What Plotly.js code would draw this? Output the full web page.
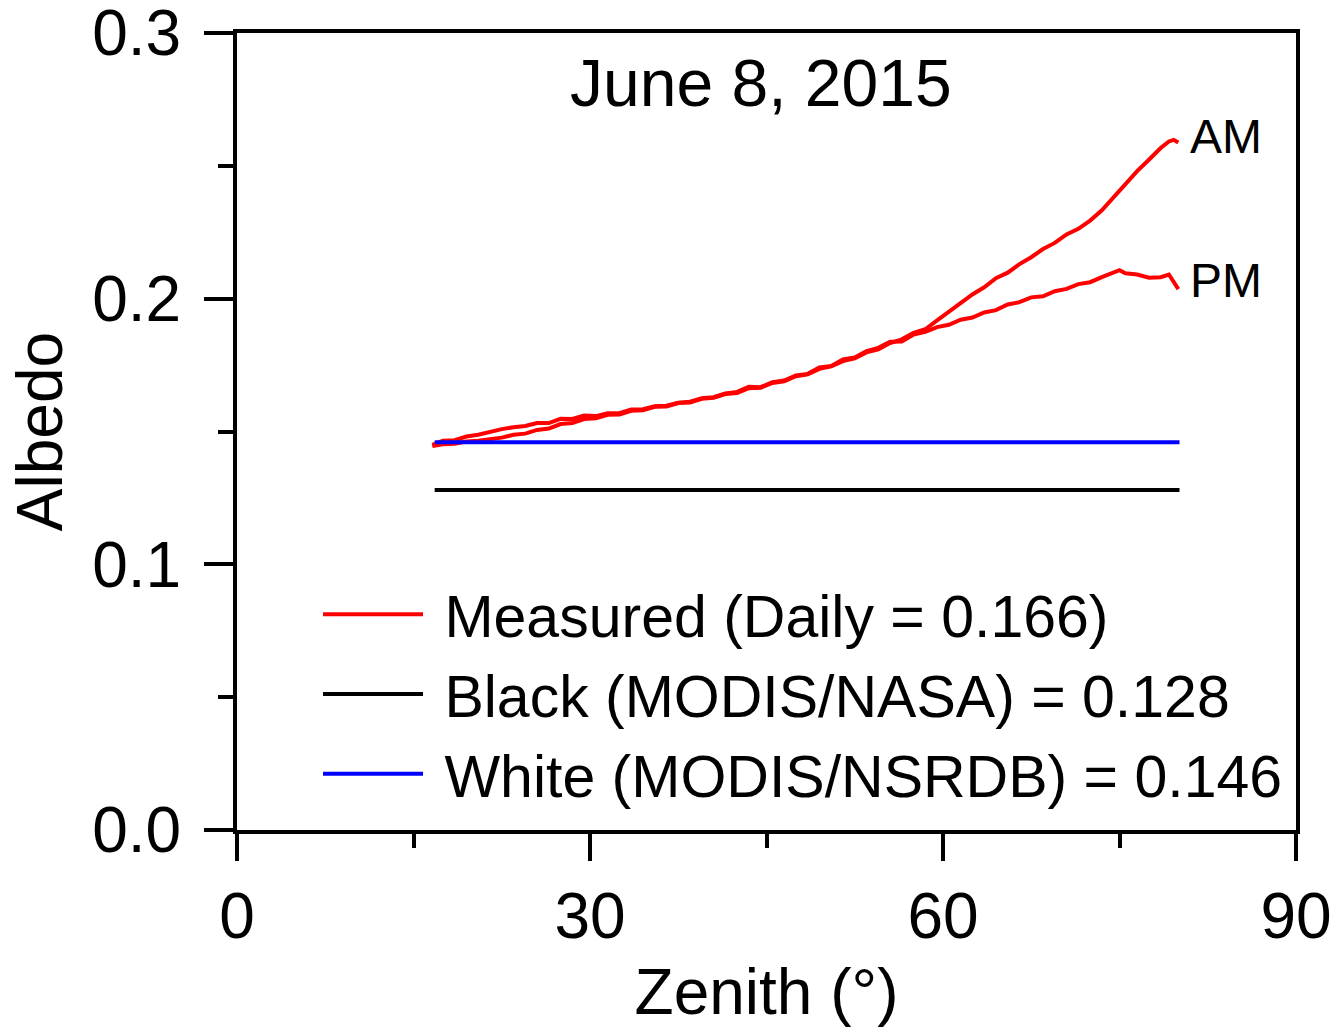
<!DOCTYPE html>
<html>
<head>
<meta charset="utf-8">
<script src="https://cdn.plot.ly/plotly-3.0.1.min.js"></script>
<style>html,body{margin:0;padding:0;background:#fff;}#chart{width:1336px;height:1028px;}</style>
</head>
<body>
<div id="chart"></div>
<script>
// Measured albedo, morning (AM) branch
const amZenith = [16.6,17.5,18.5,19.5,20.5,21.5,22.5,23.5,24.5,25.5,26.5,27.5,28.5,29.5,30.5,31.5,32.5,33.5,34.5,35.5,36.5,37.5,38.5,39.5,40.5,41.5,42.5,43.5,44.5,45.5,46.5,47.5,48.5,49.5,50.5,51.5,52.5,53.5,54.5,55.5,56.5,57.5,58.5,59.5,60.5,61.5,62.5,63.5,64.5,65.5,66.5,67.5,68.5,69.5,70.5,71.5,72.5,73.5,74.5,75.5,76.5,77.5,78.5,79.2,79.6,80.0];
const amAlbedo = [0.1445,0.1452,0.1454,0.1462,0.1465,0.1472,0.1477,0.1488,0.1492,0.1506,0.1511,0.1528,0.1532,0.1547,0.1550,0.1563,0.1564,0.1578,0.1580,0.1593,0.1594,0.1607,0.1609,0.1623,0.1627,0.1641,0.1645,0.1663,0.1665,0.1683,0.1689,0.1708,0.1715,0.1736,0.1745,0.1765,0.1775,0.1798,0.1809,0.1833,0.1847,0.1871,0.1885,0.1918,0.1950,0.1983,0.2016,0.2043,0.2077,0.2098,0.2130,0.2156,0.2187,0.2210,0.2242,0.2263,0.2294,0.2333,0.2382,0.2428,0.2480,0.2523,0.2567,0.2592,0.2598,0.2588];
// Measured albedo, afternoon (PM) branch
const pmZenith = [16.6,17.5,18.5,19.5,20.5,21.5,22.5,23.5,24.5,25.5,26.5,27.5,28.5,29.5,30.5,31.5,32.5,33.5,34.5,35.5,36.5,37.5,38.5,39.5,40.5,41.5,42.5,43.5,44.5,45.5,46.5,47.5,48.5,49.5,50.5,51.5,52.5,53.5,54.5,55.5,56.5,57.5,58.5,59.5,60.5,61.5,62.5,63.5,64.5,65.5,66.5,67.5,68.5,69.5,70.5,71.5,72.5,73.5,74.5,75.0,75.5,76.5,77.5,78.5,79.2,79.6,80.0];
const pmAlbedo = [0.1450,0.1465,0.1467,0.1481,0.1488,0.1499,0.1509,0.1516,0.1521,0.1532,0.1532,0.1548,0.1547,0.1560,0.1558,0.1569,0.1569,0.1583,0.1584,0.1595,0.1597,0.1608,0.1612,0.1625,0.1629,0.1643,0.1649,0.1668,0.1667,0.1686,0.1692,0.1711,0.1717,0.1741,0.1747,0.1771,0.1779,0.1803,0.1815,0.1838,0.1839,0.1865,0.1875,0.1893,0.1902,0.1921,0.1929,0.1948,0.1957,0.1978,0.1987,0.2005,0.2009,0.2028,0.2037,0.2055,0.2062,0.2081,0.2097,0.2107,0.2096,0.2091,0.2079,0.2081,0.2091,0.2060,0.2036];
// MODIS reference values (constant over zenith range)
const refZenith = [16.8, 80.1];
const blackSkyAlbedo = 0.128;
const whiteSkyAlbedo = 0.146;
const legendNames = ["Measured (Daily = 0.166)", "Black (MODIS/NASA) = 0.128", "White (MODIS/NSRDB) = 0.146"];
const xTickVals = [0, 30, 60, 90];
const yTickVals = [0, 0.1, 0.2, 0.3];
const yTickText = ['0.0', '0.1', '0.2', '0.3'];

const FONT = '"Liberation Sans", Arial, sans-serif';
const pad = s => '\u00a0' + s;

const traces = [
  {x: amZenith, y: amAlbedo, mode: 'lines', line: {color: '#ff0000', width: 4}, name: pad(legendNames[0])},
  {x: pmZenith, y: pmAlbedo, mode: 'lines', line: {color: '#ff0000', width: 4}, name: pad(legendNames[0]), showlegend: false},
  {x: refZenith, y: refZenith.map(() => blackSkyAlbedo), mode: 'lines', line: {color: '#000000', width: 4}, name: pad(legendNames[1])},
  {x: refZenith, y: refZenith.map(() => whiteSkyAlbedo), mode: 'lines', line: {color: '#0000ff', width: 4}, name: pad(legendNames[2])}
];

const axisCommon = {
  showline: true, linecolor: '#000', linewidth: 4, mirror: true,
  ticks: 'outside', tickcolor: '#000', tickwidth: 4,
  showgrid: false, zeroline: false, ticklabeloverflow: 'allow',
  tickfont: {family: FONT, size: 64, color: '#000'}
};

const layout = {
  width: 1336, height: 1028,
  margin: {l: 237, r: 40, t: 33, b: 198},
  paper_bgcolor: '#fff', plot_bgcolor: '#fff',
  font: {family: FONT, color: '#000'},
  showlegend: true,
  legend: {x: 0.0765, y: 0.327, xanchor: 'left', yanchor: 'top', font: {family: FONT, size: 59, color: '#000'},
           bgcolor: 'rgba(0,0,0,0)', itemwidth: 100, traceorder: 'normal'},
  xaxis: Object.assign({}, axisCommon, {
    range: [0, 90], tickvals: xTickVals, ticklen: 27,
    minor: {dtick: 15, ticks: 'outside', ticklen: 14, tickwidth: 4, tickcolor: '#000', showgrid: false},
    title: {text: 'Zenith (°)', font: {family: FONT, size: 64, color: '#000'}, standoff: 22}
  }),
  yaxis: Object.assign({}, axisCommon, {
    range: [0, 0.30001], tickvals: yTickVals, ticktext: yTickText, ticklen: 29,
    ticklabelstandoff: 10,
    minor: {dtick: 0.05, ticks: 'outside', ticklen: 15, tickwidth: 4, tickcolor: '#000', showgrid: false},
    title: {text: 'Albedo', font: {family: FONT, size: 64, color: '#000'}, standoff: 10}
  }),
  annotations: [
    {x: 44.5, y: 0.2812, xref: 'x', yref: 'y', text: 'June 8, 2015', showarrow: false, font: {family: FONT, size: 66, color: '#000'}},
    {x: 80.8, y: 0.2609, xref: 'x', yref: 'y', text: 'AM', showarrow: false, xanchor: 'left', font: {family: FONT, size: 48, color: '#000'}},
    {x: 80.8, y: 0.2067, xref: 'x', yref: 'y', text: 'PM', showarrow: false, xanchor: 'left', font: {family: FONT, size: 48, color: '#000'}}
  ]
};

Plotly.newPlot('chart', traces, layout, {displayModeBar: false, staticPlot: true});
</script>
</body>
</html>
